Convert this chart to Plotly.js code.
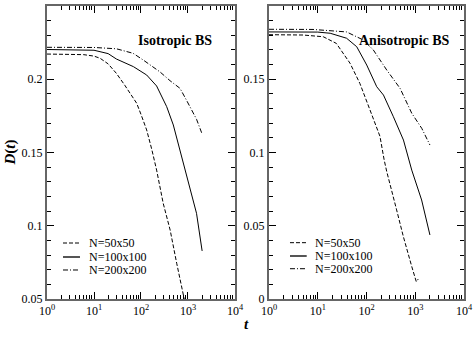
<!DOCTYPE html>
<html>
<head>
<meta charset="utf-8">
<script src="https://cdn.plot.ly/plotly-3.0.1.min.js"></script>
</head>
<body style="margin:0">
<div id="plot"></div>
<script>
// Isotropic BS (left panel)
var iso_t50 = [1, 2, 4, 6, 10, 13.5, 20, 30, 45, 58, 81, 100, 132, 170, 215, 297, 417, 575, 795, 870];
var iso_d50 = [0.2172, 0.2172, 0.2171, 0.2168, 0.2158, 0.2143, 0.2105, 0.204, 0.196, 0.1904, 0.1836, 0.176, 0.1654, 0.152, 0.138, 0.1153, 0.0971, 0.0744, 0.0539, 0.047];
var iso_t100 = [1, 3, 6, 10, 20, 30, 69, 132, 215, 352, 487, 675, 863, 1200, 1520, 2000];
var iso_d100 = [0.2203, 0.2203, 0.2202, 0.2198, 0.2175, 0.2138, 0.2086, 0.2029, 0.1954, 0.1813, 0.1688, 0.1517, 0.138, 0.121, 0.1085, 0.0828];
var iso_t200 = [1, 5, 10, 30, 68, 112, 254, 415, 676, 933, 1290, 1520, 1950];
var iso_d200 = [0.2218, 0.2218, 0.2217, 0.2208, 0.2177, 0.2131, 0.205, 0.199, 0.1938, 0.1856, 0.177, 0.1727, 0.1635];

// Anisotropic BS (right panel)
var ani_t50 = [1, 5, 13, 24, 46, 73, 118, 189, 230, 260, 415, 570, 847, 990, 1050, 1150];
var ani_d50 = [0.1804, 0.1802, 0.179, 0.1745, 0.1609, 0.1472, 0.129, 0.111, 0.095, 0.087, 0.0608, 0.0426, 0.0222, 0.015, 0.0118, 0.0136];
var ani_t100 = [1, 10, 18, 39, 63, 101, 162, 223, 356, 573, 847, 984, 1350, 2000];
var ani_d100 = [0.1823, 0.1822, 0.1814, 0.178, 0.1722, 0.1597, 0.1449, 0.1392, 0.1244, 0.1085, 0.088, 0.0812, 0.0676, 0.0437];
var ani_t200 = [1, 8, 39, 86, 138, 260, 488, 847, 1360, 2000];
var ani_d200 = [0.1841, 0.184, 0.1823, 0.1768, 0.17, 0.1563, 0.1438, 0.1268, 0.1165, 0.1051];

var series_names = ['N=50x50', 'N=100x100', 'N=200x200'];
var x_tickvals = [1, 10, 100, 1000, 10000];
var x_ticktext = ['10<sup>0</sup>', '10<sup>1</sup>', '10<sup>2</sup>', '10<sup>3</sup>', '10<sup>4</sup>'];

var dashes = ['4px,2px', 'solid', '5px,2px,1px,2px'];

// minor ticks on the log axis: 2..9 in each decade
var minorvals = [];
for (var dec = 1; dec < 10000; dec *= 10) {
  for (var k = 2; k <= 9; k++) minorvals.push(k * dec);
}

function line(t, d, i, xa, ya) {
  return {
    x: t, y: d, type: 'scatter', mode: 'lines',
    name: series_names[i], xaxis: xa, yaxis: ya,
    line: {color: '#000', width: 1, dash: dashes[i]}
  };
}

var data = [
  line(iso_t50, iso_d50, 0, 'x', 'y'),
  line(iso_t100, iso_d100, 1, 'x', 'y'),
  line(iso_t200, iso_d200, 2, 'x', 'y'),
  line(ani_t50, ani_d50, 0, 'x2', 'y2'),
  line(ani_t100, ani_d100, 1, 'x2', 'y2'),
  line(ani_t200, ani_d200, 2, 'x2', 'y2')
];

var serif = 'Liberation Serif';
var font = {family: serif, size: 12, color: '#000'};

function xax(dom, anchor) {
  return {
    type: 'log', domain: dom, anchor: anchor, range: [0, 4],
    tickmode: 'array', tickvals: x_tickvals, ticktext: x_ticktext,
    ticks: 'inside', ticklen: 7, tickcolor: '#000',
    showline: true, linecolor: '#666', linewidth: 2, mirror: 'ticks',
    minor: {ticks: 'inside', ticklen: 4, tickmode: 'array', tickvals: minorvals, tickcolor: '#000'},
    gridcolor: 'rgba(0,0,0,0)', tickfont: font
  };
}
function yax(range, anchor) {
  return {
    anchor: anchor, range: range, dtick: 0.05, showgrid: false, zeroline: false,
    ticks: 'inside', ticklen: 7, tickcolor: '#000',
    showline: true, linecolor: '#666', linewidth: 2, mirror: 'ticks',
    minor: {ticks: 'inside', ticklen: 4, dtick: 0.01, tickcolor: '#000'},
    tickfont: font
  };
}

// hand-made legends (paper coordinates of the rows and line samples)
var legends = [
  {x0: 0.0384, x1: 0.0791, xt: 0.0959, y: [0.1911, 0.1433, 0.099]},
  {x0: 0.5827, x1: 0.6228, xt: 0.6386, y: [0.1922, 0.1468, 0.1034]}
];
var shapes = [];
var annotations = [
  {text: '<b>Isotropic BS</b>', xref: 'paper', yref: 'paper', x: 0.2134, y: 0.915,
   xanchor: 'left', showarrow: false, font: {family: serif, size: 14, color: '#000'}},
  {text: '<b>Anisotropic BS</b>', xref: 'paper', yref: 'paper', x: 0.7434, y: 0.915,
   xanchor: 'left', showarrow: false, font: {family: serif, size: 14, color: '#000'}},
  {text: '<b><i>t</i></b>', xref: 'paper', yref: 'paper', x: 0.4796, y: -0.085,
   xanchor: 'center', yanchor: 'middle', showarrow: false, font: {family: serif, size: 15, color: '#000'}},
  {text: '<b><i>D</i>(<i>t</i>)</b>', xref: 'paper', yref: 'paper', x: -0.0887, y: 0.5,
   xanchor: 'center', yanchor: 'middle', textangle: -90, showarrow: false,
   font: {family: serif, size: 15, color: '#000'}}
];
legends.forEach(function (lg) {
  for (var i = 0; i < series_names.length; i++) {
    shapes.push({type: 'line', xref: 'paper', yref: 'paper',
      x0: lg.x0, x1: lg.x1, y0: lg.y[i], y1: lg.y[i],
      line: {color: i === 1 ? '#555' : '#000', width: i === 1 ? 2 : 1, dash: dashes[i]}});
    annotations.push({text: series_names[i], xref: 'paper', yref: 'paper',
      x: lg.xt, y: lg.y[i], xanchor: 'left', yanchor: 'middle', showarrow: false,
      font: font});
  }
});

var layout = {
  width: 473, height: 339,
  margin: {l: 47, r: 9, t: 6, b: 40},
  showlegend: false,
  xaxis: xax([0, 0.4508], 'y'),
  yaxis: yax([0.05, 0.25], 'x'),
  xaxis2: xax([0.5324, 1], 'y2'),
  yaxis2: yax([0, 0.2], 'x2')
};

// axes and curves first, then the text and legend samples
Plotly.newPlot('plot', data, layout, {staticPlot: true}).then(function (gd) {
  return Plotly.relayout(gd, {shapes: shapes, annotations: annotations});
});
</script>
</body>
</html>
